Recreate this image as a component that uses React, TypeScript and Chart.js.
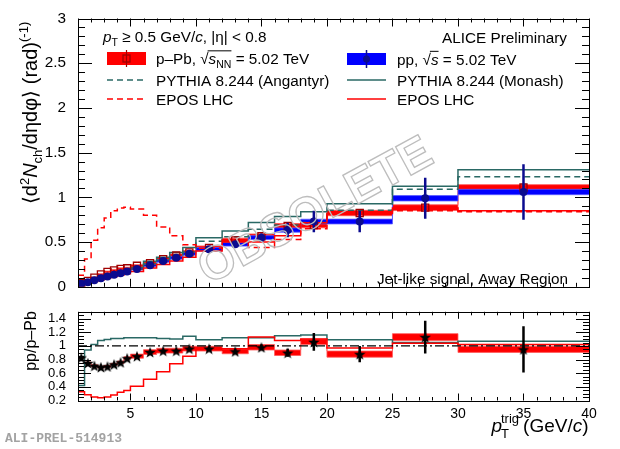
import React, { useEffect, useRef } from "react";
import { Chart, registerables } from "chart.js";

Chart.register(...registerables);

const FONT = "'Liberation Sans', Arial, Helvetica, sans-serif";

// ---------------- data ----------------
const binEdges = [1, 1.5, 2, 2.5, 3, 3.5, 4, 4.5, 5, 6, 7, 8, 9, 10, 12, 14, 16, 18, 20, 25, 30, 40];
const binCenters = [1.25, 1.75, 2.25, 2.75, 3.25, 3.75, 4.25, 4.75, 5.5, 6.5, 7.5, 8.5, 9.5, 11, 13, 15, 17, 19, 22.5, 27.5, 35];

// pp, sqrt(s) = 5.02 TeV
const ppValues = [0.034, 0.05, 0.073, 0.095, 0.116, 0.134, 0.152, 0.17, 0.2, 0.24, 0.29, 0.325, 0.37, 0.42, 0.475, 0.55, 0.635, 0.73, 0.73, 0.99, 1.06];
const ppStat = [0.002, 0.002, 0.003, 0.003, 0.003, 0.004, 0.004, 0.005, 0.006, 0.007, 0.009, 0.011, 0.014, 0.018, 0.028, 0.045, 0.08, 0.12, 0.12, 0.23, 0.31];
const ppSys = [0.006, 0.006, 0.007, 0.008, 0.008, 0.009, 0.01, 0.011, 0.012, 0.013, 0.015, 0.016, 0.017, 0.019, 0.02, 0.022, 0.024, 0.026, 0.027, 0.03, 0.03];

// p-Pb, sqrt(sNN) = 5.02 TeV
const pPbValues = [0.041, 0.067, 0.103, 0.138, 0.166, 0.184, 0.2, 0.207, 0.235, 0.264, 0.31, 0.35, 0.385, 0.435, 0.52, 0.565, 0.68, 0.69, 0.825, 0.885, 1.11];
const pPbStat = [0.002, 0.002, 0.002, 0.002, 0.003, 0.003, 0.003, 0.003, 0.004, 0.005, 0.006, 0.007, 0.008, 0.01, 0.014, 0.018, 0.022, 0.026, 0.02, 0.03, 0.035];
const pPbSys = [0.006, 0.007, 0.008, 0.009, 0.01, 0.011, 0.012, 0.012, 0.013, 0.015, 0.016, 0.018, 0.02, 0.022, 0.024, 0.026, 0.028, 0.03, 0.03, 0.032, 0.032];

// models
const pythiaMonash = [0.03, 0.065, 0.09, 0.115, 0.135, 0.155, 0.175, 0.19, 0.217, 0.285, 0.33, 0.385, 0.44, 0.55, 0.625, 0.72, 0.785, 0.84, 0.93, 1.125, 1.31];
const pythiaAngantyr = [0.07, 0.07, 0.088, 0.107, 0.123, 0.14, 0.158, 0.17, 0.197, 0.255, 0.3, 0.35, 0.39, 0.51, 0.56, 0.645, 0.69, 0.72, 0.855, 1.09, 1.23];
const eposPP = [0.025, 0.04, 0.06, 0.08, 0.1, 0.115, 0.13, 0.145, 0.17, 0.21, 0.25, 0.29, 0.33, 0.4, 0.5, 0.5, 0.57, 0.715, 0.82, 0.88, 0.85];
const eposPPb = [0.13, 0.31, 0.52, 0.66, 0.77, 0.85, 0.88, 0.89, 0.87, 0.8, 0.67, 0.57, 0.47, 0.43, 0.52, 0.44, 0.53, 0.65, 0.84, 0.85, 0.84];

// ratio pp / p-Pb
const ratioValues = [0.83, 0.75, 0.71, 0.69, 0.7, 0.73, 0.76, 0.82, 0.85, 0.91, 0.93, 0.93, 0.96, 0.96, 0.92, 0.98, 0.9, 1.06, 0.88, 1.13, 0.95];
const ratioStat = [0.01, 0.01, 0.01, 0.01, 0.01, 0.01, 0.01, 0.012, 0.012, 0.014, 0.016, 0.018, 0.02, 0.02, 0.03, 0.04, 0.06, 0.13, 0.12, 0.24, 0.34];
const ratioSys = [0.015, 0.015, 0.015, 0.015, 0.015, 0.015, 0.018, 0.02, 0.03, 0.035, 0.035, 0.035, 0.035, 0.035, 0.035, 0.04, 0.04, 0.04, 0.045, 0.05, 0.045];
const ratioPythia = [0.42, 0.94, 1.02, 1.08, 1.095, 1.11, 1.11, 1.12, 1.12, 1.12, 1.11, 1.1, 1.14, 1.09, 1.12, 1.12, 1.15, 1.16, 1.09, 1.05, 1.07];
const ratioEpos = [0.33, 0.285, 0.25, 0.24, 0.25, 0.28, 0.32, 0.345, 0.41, 0.51, 0.62, 0.74, 0.85, 0.96, 0.96, 1.13, 1.08, 1.1, 0.97, 1.04, 1.02];
const unityLine = [1, 1];

const yTopTicks = [0, 0.5, 1, 1.5, 2, 2.5, 3];
const yRatioTicks = [0.2, 0.4, 0.6, 0.8, 1, 1.2, 1.4];
const xTickLabels = [5, 10, 15, 20, 25, 30, 35, 40];

// ---------------- colours ----------------
const RED = "#ff0000";
const BLUE = "#0000ff";
const NAVY = "#0b0b8f";
const DARKRED = "#a00000";
const TEAL = "#2a6965";

// ---------------- helpers ----------------
const histData = (vals: number[]) => {
  const pts: any[] = vals.map((v, i) => ({ x: binEdges[i], y: v }));
  pts.push({ x: binEdges[binEdges.length - 1], y: vals[vals.length - 1] });
  return pts;
};
const shift = (vals: number[], errs: number[], sgn: number) => vals.map((v, i) => v + sgn * errs[i]);
const errBars = (vals: number[], errs: number[]) => {
  const pts: any[] = [];
  binCenters.forEach((c, i) => {
    pts.push({ x: c, y: vals[i] - errs[i] }, { x: c, y: vals[i] + errs[i] }, { x: c, y: null });
  });
  return pts;
};
const markers = (vals: number[]) => binCenters.map((c, i) => ({ x: c, y: vals[i] }));

const hist = (vals: number[], color: string, extra: any = {}) => ({
  type: "line",
  data: histData(vals),
  stepped: "before",
  borderColor: color,
  borderWidth: 1.5,
  pointRadius: 0,
  fill: false,
  ...extra,
});

function withOrder(list: any[]) {
  return list.map((d, i) => ({ ...d, order: list.length - i }));
}

type Seg = { t: string; s?: number; i?: boolean; dy?: number; over?: boolean; fam?: string; b?: boolean };
const fontOf = (size: number, italic?: boolean, fam?: string, bold?: boolean) =>
  `${italic ? "italic " : ""}${bold ? "bold " : ""}${size}px ${fam || FONT}`;

function drawRich(ctx: CanvasRenderingContext2D, segs: Seg[], x: number, y: number, base: number, align = "left", color = "#000") {
  const widths = segs.map((s) => {
    ctx.font = fontOf(s.s ?? base, s.i, s.fam, s.b);
    return ctx.measureText(s.t).width;
  });
  const total = widths.reduce((a, b) => a + b, 0);
  let cx = align === "left" ? x : align === "right" ? x - total : x - total / 2;
  ctx.fillStyle = color;
  ctx.textAlign = "left";
  ctx.textBaseline = "alphabetic";
  let o0 = -1,
    o1 = -1;
  segs.forEach((s, k) => {
    ctx.font = fontOf(s.s ?? base, s.i, s.fam, s.b);
    ctx.fillText(s.t, cx, y + (s.dy ?? 0));
    if (s.over) {
      if (o0 < 0) o0 = cx - 1;
      o1 = cx + widths[k];
    }
    cx += widths[k];
  });
  if (o0 >= 0) {
    ctx.strokeStyle = color;
    ctx.lineWidth = 1;
    ctx.beginPath();
    ctx.moveTo(o0, y - base * 0.86);
    ctx.lineTo(o1, y - base * 0.86);
    ctx.stroke();
  }
  return total;
}

function line(ctx: CanvasRenderingContext2D, x0: number, y0: number, x1: number, y1: number, color: string, w: number, dash: number[] = []) {
  ctx.save();
  ctx.strokeStyle = color;
  ctx.lineWidth = w;
  ctx.setLineDash(dash);
  ctx.beginPath();
  ctx.moveTo(x0, y0);
  ctx.lineTo(x1, y1);
  ctx.stroke();
  ctx.restore();
}

function makeStar(size: number) {
  const c = document.createElement("canvas");
  c.width = size;
  c.height = size;
  const g = c.getContext("2d")!;
  const cx = size / 2,
    cy = size / 2 + size * 0.06,
    R = size / 2,
    r = R * 0.42;
  g.beginPath();
  for (let k = 0; k < 10; k++) {
    const ang = -Math.PI / 2 + (k * Math.PI) / 5;
    const rad = k % 2 === 0 ? R : r;
    const px = cx + rad * Math.cos(ang);
    const py = cy + rad * Math.sin(ang);
    if (k === 0) g.moveTo(px, py);
    else g.lineTo(px, py);
  }
  g.closePath();
  g.fillStyle = "#000";
  g.fill();
  return c;
}

function framePlugin(cfg: { yMin: number; yStep: number; yN: number; yMajEvery: number; yMaj: number; yMin2: number; xMaj: number; xMin: number }, decorate: (ctx: CanvasRenderingContext2D, chart: any) => void) {
  return {
    id: "rootFrame",
    afterDraw(chart: any) {
      const ctx: CanvasRenderingContext2D = chart.ctx;
      const { left, right, top, bottom } = chart.chartArea;
      const xs = chart.scales.x;
      const ys = chart.scales.y;
      ctx.save();
      ctx.strokeStyle = "#000";
      ctx.lineWidth = 1;
      ctx.beginPath();
      for (let v = 1; v <= 40; v++) {
        const px = Math.round(xs.getPixelForValue(v)) + 0.5;
        const len = v % 5 === 0 ? cfg.xMaj : cfg.xMin;
        ctx.moveTo(px, bottom);
        ctx.lineTo(px, bottom - len);
        ctx.moveTo(px, top);
        ctx.lineTo(px, top + len);
      }
      for (let k = 0; k <= cfg.yN; k++) {
        const v = cfg.yMin + k * cfg.yStep;
        const py = Math.round(ys.getPixelForValue(v)) + 0.5;
        const len = k % cfg.yMajEvery === 0 ? cfg.yMaj : cfg.yMin2;
        ctx.moveTo(left, py);
        ctx.lineTo(left + len, py);
        ctx.moveTo(right, py);
        ctx.lineTo(right - len, py);
      }
      ctx.stroke();
      ctx.strokeRect(Math.round(left) + 0.5, Math.round(top) + 0.5, Math.round(right - left), Math.round(bottom - top));
      ctx.restore();
      ctx.save();
      decorate(ctx, chart);
      ctx.restore();
    },
  };
}

function decorateTop(ctx: CanvasRenderingContext2D) {
  // watermark
  ctx.save();
  ctx.translate(316, 212);
  ctx.rotate((-28.5 * Math.PI) / 180);
  ctx.font = `bold 47px ${FONT}`;
  ctx.textAlign = "center";
  ctx.textBaseline = "middle";
  ctx.strokeStyle = "#bdbdbd";
  ctx.lineWidth = 1.3;
  ctx.strokeText("OBSOLETE", 0, 0);
  ctx.restore();

  const F = 15.3;
  drawRich(ctx, [{ t: "p", i: true }, { t: "T", s: 10.5, dy: 4 }, { t: " ≥ 0.5 GeV/" }, { t: "c", i: true }, { t: ", |η| < 0.8" }], 103, 42, F);
  drawRich(ctx, [{ t: "ALICE Preliminary" }], 567, 42.5, F, "right");

  ctx.fillStyle = RED;
  ctx.fillRect(107, 52, 39, 13);
  line(ctx, 126.5, 50, 126.5, 67, DARKRED, 1.2);
  ctx.strokeStyle = DARKRED;
  ctx.lineWidth = 1.3;
  ctx.strokeRect(123, 55, 7, 7);

  ctx.fillStyle = BLUE;
  ctx.fillRect(347, 53, 39, 12);
  line(ctx, 366.5, 50, 366.5, 68, NAVY, 1.5);
  ctx.fillStyle = NAVY;
  ctx.beginPath();
  ctx.arc(366.5, 59, 3.5, 0, Math.PI * 2);
  ctx.fill();

  line(ctx, 107, 80, 146, 80, TEAL, 1.5, [6, 4]);
  line(ctx, 107, 99, 146, 99, RED, 1.5, [6, 4]);
  line(ctx, 347, 80, 386, 80, TEAL, 1.5);
  line(ctx, 347, 99, 386, 99, RED, 1.5);

  drawRich(ctx, [{ t: "p–Pb, √" }, { t: "s", i: true, over: true }, { t: "NN", s: 10.5, dy: 4, over: true }, { t: " = 5.02 TeV" }], 156, 64, F);
  drawRich(ctx, [{ t: "PYTHIA 8.244 (Angantyr)" }], 156, 85.5, F);
  drawRich(ctx, [{ t: "EPOS LHC" }], 156, 104.5, F);
  drawRich(ctx, [{ t: "pp, √" }, { t: "s", i: true, over: true }, { t: " = 5.02 TeV" }], 397, 64.5, F);
  drawRich(ctx, [{ t: "PYTHIA 8.244 (Monash)" }], 397, 85.5, F);
  drawRich(ctx, [{ t: "EPOS LHC" }], 397, 104.5, F);

  drawRich(ctx, [{ t: "Jet-like signal, Away Region" }], 568, 283.5, F, "right");

  ctx.save();
  ctx.translate(37, 113);
  ctx.rotate(-Math.PI / 2);
  drawRich(
    ctx,
    [
      { t: "⟨d" },
      { t: "2", s: 13, dy: -8 },
      { t: "N", i: true },
      { t: "ch", s: 13, dy: 5 },
      { t: "/dηdφ⟩ (rad)" },
      { t: "(-1)", s: 13, dy: -9 },
    ],
    0,
    0,
    20,
    "center"
  );
  ctx.restore();
}

function decorateBottom(ctx: CanvasRenderingContext2D) {
  ctx.save();
  ctx.translate(36, 41);
  ctx.rotate(-Math.PI / 2);
  drawRich(ctx, [{ t: "pp/p–Pb" }], 0, 0, 16, "center");
  ctx.restore();

  const F = 19;
  const yb = 132;
  ctx.font = fontOf(F);
  const wA = ctx.measureText("(GeV/").width;
  ctx.font = fontOf(F, true);
  const wC = ctx.measureText("c").width;
  ctx.font = fontOf(F);
  const wP = ctx.measureText(")").width;
  const xEnd = 588.5;
  const xStart = xEnd - (wA + wC + wP);
  drawRich(ctx, [{ t: "(GeV/" }, { t: "c", i: true }, { t: ")" }], xStart, yb, F);
  ctx.font = fontOf(13);
  const wTrig = ctx.measureText("trig").width;
  const xTrig = xStart - 4 - wTrig;
  drawRich(ctx, [{ t: "trig" }], xTrig, yb - 9, 13);
  drawRich(ctx, [{ t: "T" }], xTrig, yb + 6, 13);
  ctx.font = fontOf(F, true);
  const wp = ctx.measureText("p").width;
  drawRich(ctx, [{ t: "p", i: true }], xTrig - wp + 1, yb, F);

  drawRich(ctx, [{ t: "ALI-PREL-514913", fam: "'Liberation Mono', 'DejaVu Sans Mono', monospace", b: true }], 5, 142, 13, "left", "#a3a3a3");
}

export default function App() {
  const topRef = useRef<HTMLCanvasElement>(null);
  const botRef = useRef<HTMLCanvasElement>(null);

  useEffect(() => {
    const star = makeStar(12);

    const topDatasets = withOrder([
      hist(shift(pPbValues, pPbSys, 1), "rgba(255,80,80,1)", { borderWidth: 0.8, fill: "+1", backgroundColor: RED }),
      hist(shift(pPbValues, pPbSys, -1), "rgba(255,80,80,1)", { borderWidth: 0.8 }),
      hist(shift(ppValues, ppSys, 1), "rgba(90,90,255,1)", { borderWidth: 0.8, fill: "+1", backgroundColor: BLUE }),
      hist(shift(ppValues, ppSys, -1), "rgba(90,90,255,1)", { borderWidth: 0.8 }),
      hist(pythiaMonash, TEAL),
      hist(pythiaAngantyr, TEAL, { borderDash: [6, 4] }),
      hist(eposPP, RED),
      hist(eposPPb, RED, { borderDash: [6, 4] }),
      { type: "line", data: errBars(pPbValues, pPbStat), borderColor: DARKRED, borderWidth: 1.5, pointRadius: 0, spanGaps: false, fill: false },
      { type: "line", data: markers(pPbValues), showLine: false, pointStyle: "rect", pointRadius: 5, borderColor: DARKRED, borderWidth: 1.3, backgroundColor: "rgba(0,0,0,0)" },
      { type: "line", data: errBars(ppValues, ppStat), borderColor: NAVY, borderWidth: 2.5, pointRadius: 0, spanGaps: false, fill: false },
      { type: "line", data: markers(ppValues), showLine: false, pointStyle: "circle", pointRadius: 4, borderWidth: 0, backgroundColor: NAVY },
    ]);

    const topChart = new Chart(topRef.current!, {
      type: "line",
      data: { datasets: topDatasets as any },
      options: {
        animation: false,
        responsive: false,
        events: [],
        layout: { padding: { left: 0, right: 31, top: 18.5, bottom: 2.5 } },
        plugins: { legend: { display: false }, tooltip: { enabled: false } },
        scales: {
          x: { type: "linear", min: 1, max: 40, display: false },
          y: {
            type: "linear",
            min: 0,
            max: 3,
            afterFit: (s: any) => {
              s.width = 78;
            },
            afterBuildTicks: (s: any) => {
              s.ticks = yTopTicks.map((v) => ({ value: v }));
            },
            ticks: { font: { family: FONT, size: 15.3 }, color: "#000", padding: 4, autoSkip: false, callback: (v: any) => String(+Number(v).toFixed(2)) },
            grid: { display: false },
            border: { display: false },
          },
        },
      } as any,
      plugins: [framePlugin({ yMin: 0, yStep: 0.1, yN: 30, yMajEvery: 5, yMaj: 14, yMin2: 7, xMaj: 8, xMin: 4 }, decorateTop)],
    });

    const botDatasets = withOrder([
      hist(shift(ratioValues, ratioSys, 1), "rgba(255,90,90,1)", { borderWidth: 0.8, fill: "+1", backgroundColor: RED }),
      hist(shift(ratioValues, ratioSys, -1), "rgba(255,90,90,1)", { borderWidth: 0.8 }),
      hist(ratioPythia, TEAL),
      hist(ratioEpos, RED),
      {
        type: "line",
        data: [
          { x: 1, y: unityLine[0] },
          { x: 40, y: unityLine[1] },
        ],
        borderColor: "#000",
        borderWidth: 1.3,
        borderDash: [9, 3, 2, 3],
        pointRadius: 0,
        fill: false,
      },
      { type: "line", data: errBars(ratioValues, ratioStat), borderColor: "#000", borderWidth: 2.5, pointRadius: 0, spanGaps: false, fill: false },
      { type: "line", data: markers(ratioValues), showLine: false, pointStyle: star, pointRadius: 6 },
    ]);

    const botChart = new Chart(botRef.current!, {
      type: "line",
      data: { datasets: botDatasets as any },
      options: {
        animation: false,
        responsive: false,
        events: [],
        layout: { padding: { left: 0, right: 31, top: 4.5, bottom: 26.5 } },
        plugins: { legend: { display: false }, tooltip: { enabled: false } },
        scales: {
          x: {
            type: "linear",
            min: 1,
            max: 40,
            afterFit: (s: any) => {
              s.height = 22;
            },
            afterBuildTicks: (s: any) => {
              s.ticks = xTickLabels.map((v) => ({ value: v }));
            },
            ticks: { font: { family: FONT, size: 14 }, color: "#000", padding: -3, autoSkip: false, maxRotation: 0 },
            grid: { display: false },
            border: { display: false },
          },
          y: {
            type: "linear",
            min: 0.2,
            max: 1.5,
            afterFit: (s: any) => {
              s.width = 78;
            },
            afterBuildTicks: (s: any) => {
              s.ticks = yRatioTicks.map((v) => ({ value: v }));
            },
            ticks: { font: { family: FONT, size: 13 }, color: "#000", padding: 4, autoSkip: false, callback: (v: any) => String(+Number(v).toFixed(2)) },
            grid: { display: false },
            border: { display: false },
          },
        },
      } as any,
      plugins: [framePlugin({ yMin: 0.2, yStep: 0.05, yN: 26, yMajEvery: 4, yMaj: 13, yMin2: 6, xMaj: 7, xMin: 3.5 }, decorateBottom)],
    });

    return () => {
      topChart.destroy();
      botChart.destroy();
    };
  }, []);

  return (
    <div style={{ position: "absolute", left: 0, top: 0, width: 620, height: 449, background: "#fff" }}>
      <canvas ref={topRef} width={620} height={300} style={{ position: "absolute", left: 0, top: 0, width: 620, height: 300 }} />
      <canvas ref={botRef} width={620} height={149} style={{ position: "absolute", left: 0, top: 300, width: 620, height: 149 }} />
    </div>
  );
}
